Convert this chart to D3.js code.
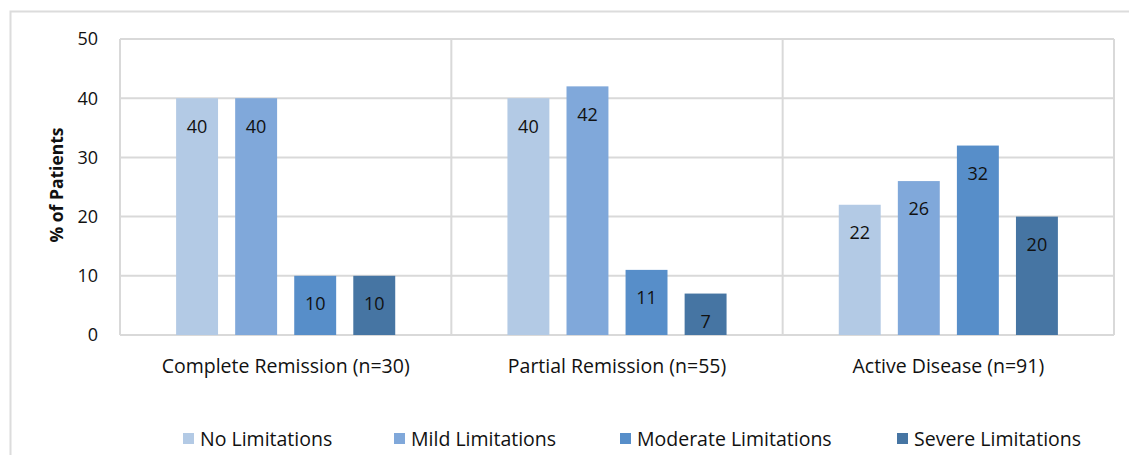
<!DOCTYPE html>
<html>
<head>
<meta charset="utf-8">
<script src="https://cdn.jsdelivr.net/npm/d3@7"></script>
<style>
  body { margin: 0; background: #fff; }
  svg { font-family: "Open Sans", Lato, sans-serif; }
</style>
</head>
<body>
<svg width="1129" height="455"></svg>
<script>
// data
var groups = ["Complete Remission (n=30)", "Partial Remission (n=55)", "Active Disease (n=91)"]
var series = ["No Limitations", "Mild Limitations", "Moderate Limitations", "Severe Limitations"]
var noLim = [40, 40, 22]
var mildLim = [40, 42, 26]
var modLim = [10, 11, 32]
var sevLim = [10, 7, 20]
var yTicks = [0, 10, 20, 30, 40, 50]
var colors = ["#b3cae5", "#80a8da", "#578ec9", "#4675a3"]

var values = [noLim, mildLim, modLim, sevLim]

var svg = d3.select("svg")

// outer frame (only top and left visible)
svg.append("path")
  .attr("d", "M10.5,460 V11.5 H1140")
  .attr("fill", "none")
  .attr("stroke", "#dcdcdc")
  .attr("stroke-width", 2)

var pLeft = 120, pRight = 1114, pTop = 39, pBottom = 335

var x0 = d3.scaleBand().domain(groups).range([pLeft, pRight]).padding(0)
var x1 = d3.scaleBand().domain(series).range([0, x0.bandwidth()])
  .paddingInner(0.29).paddingOuter(0.95)
var y = d3.scaleLinear().domain([0, 50]).range([pBottom, pTop])

// grid
svg.append("g").selectAll("line").data(yTicks).enter().append("line")
  .attr("x1", pLeft).attr("x2", pRight)
  .attr("y1", d => y(d)).attr("y2", d => y(d))
  .attr("stroke", "#d9d9d9").attr("stroke-width", 2)

// vertical category dividers + box sides
var xs = groups.map(g => x0(g)).concat([pRight])
svg.append("g").selectAll("line").data(xs).enter().append("line")
  .attr("x1", d => d).attr("x2", d => d)
  .attr("y1", pTop).attr("y2", pBottom)
  .attr("stroke", "#d9d9d9").attr("stroke-width", 2)

// y tick labels
svg.append("g").selectAll("text").data(yTicks).enter().append("text")
  .attr("x", 98).attr("y", d => y(d))
  .attr("dy", "0.35em")
  .attr("text-anchor", "end")
  .attr("font-size", 18)
  .attr("fill", "#111")
  .text(d => d)

// y title
svg.append("text")
  .attr("transform", "translate(63,185) rotate(-90)")
  .attr("text-anchor", "middle")
  .attr("font-size", 17.5)
  .attr("font-weight", "bold")
  .attr("fill", "#111")
  .text("% of Patients")

// bars
var gs = svg.append("g").selectAll("g").data(groups).enter().append("g")
  .attr("transform", d => "translate(" + x0(d) + ",0)")

gs.each(function(g, gi) {
  var sel = d3.select(this)
  series.forEach(function(s, si) {
    var v = values[si][gi]
    sel.append("rect")
      .attr("x", x1(s)).attr("width", x1.bandwidth())
      .attr("y", y(v)).attr("height", y(0) - y(v))
      .attr("fill", colors[si])
    sel.append("text")
      .attr("x", x1(s) + x1.bandwidth() / 2)
      .attr("y", y(v) + 28)
      .attr("dy", "0.35em")
      .attr("text-anchor", "middle")
      .attr("font-size", 18)
      .attr("fill", "#111")
      .text(v)
  })
})

// category labels
svg.append("g").selectAll("text").data(groups).enter().append("text")
  .attr("x", d => x0(d) + x0.bandwidth() / 2)
  .attr("y", 366)
  .attr("dy", "0.35em")
  .attr("text-anchor", "middle")
  .attr("font-size", 19.5)
  .attr("fill", "#111")
  .text(d => d)

// legend
var legX = [183, 394, 620, 897]
var leg = svg.append("g").selectAll("g").data(series).enter().append("g")
  .attr("transform", (d, i) => "translate(" + legX[i] + ",433)")
leg.append("rect").attr("width", 11).attr("height", 11)
  .attr("fill", (d, i) => colors[i])
leg.append("text")
  .attr("x", 17).attr("y", 6).attr("dy", "0.35em")
  .attr("font-size", 19.5)
  .attr("fill", "#111")
  .text(d => d)
</script>
</body>
</html>
